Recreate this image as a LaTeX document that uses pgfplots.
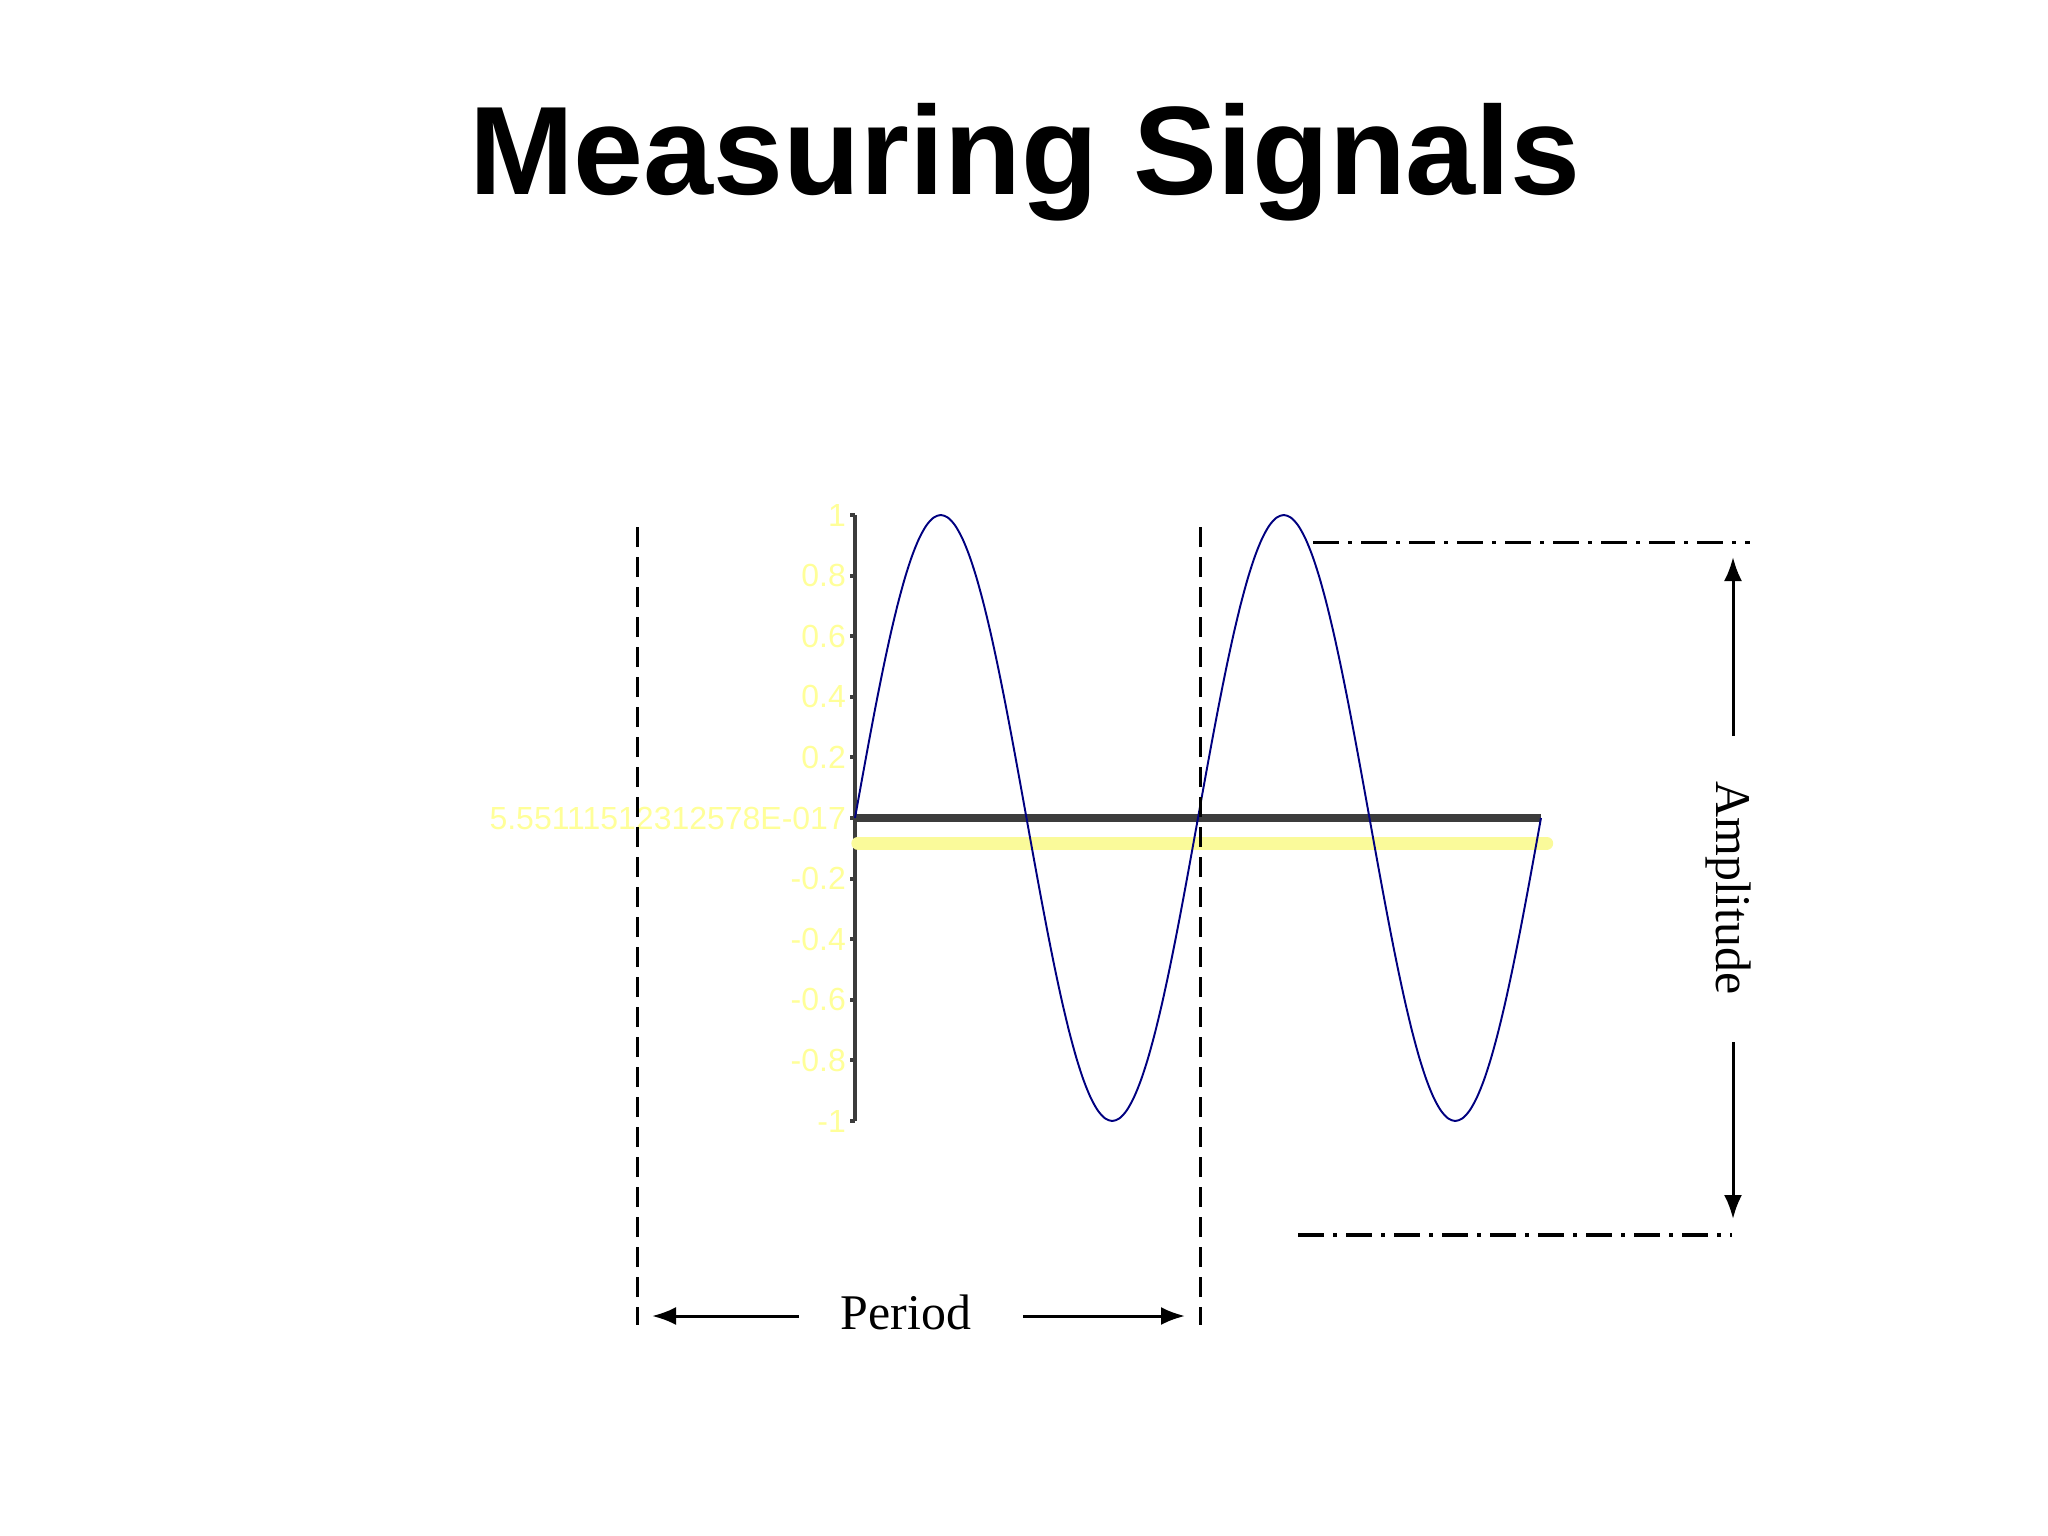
\documentclass[border=0pt]{standalone}
\usepackage{fontspec}
\setmainfont{Liberation Serif}
\newfontfamily\labelfont{Liberation Sans}
\usepackage{pgfplots}
\pgfplotsset{compat=1.18}
\usepackage{pgfplotstable}
\usetikzlibrary{arrows.meta}

\definecolor{navyline}{HTML}{000080}
\definecolor{axisgray}{HTML}{3C3C3C}
\definecolor{paleyellow}{HTML}{FFFF99}
\definecolor{baryellow}{HTML}{FAFA9A}

% two periods of the signal, x in degrees
\pgfplotstableread{
deg val
0 0
7.5 0.1305
15 0.2588
22.5 0.3827
30 0.5
37.5 0.6088
45 0.7071
52.5 0.7934
60 0.8660
67.5 0.9239
75 0.9659
82.5 0.9914
90 1
97.5 0.9914
105 0.9659
112.5 0.9239
120 0.8660
127.5 0.7934
135 0.7071
142.5 0.6088
150 0.5
157.5 0.3827
165 0.2588
172.5 0.1305
180 0
187.5 -0.1305
195 -0.2588
202.5 -0.3827
210 -0.5
217.5 -0.6088
225 -0.7071
232.5 -0.7934
240 -0.8660
247.5 -0.9239
255 -0.9659
262.5 -0.9914
270 -1
277.5 -0.9914
285 -0.9659
292.5 -0.9239
300 -0.8660
307.5 -0.7934
315 -0.7071
322.5 -0.6088
330 -0.5
337.5 -0.3827
345 -0.2588
352.5 -0.1305
360 0
367.5 0.1305
375 0.2588
382.5 0.3827
390 0.5
397.5 0.6088
405 0.7071
412.5 0.7934
420 0.8660
427.5 0.9239
435 0.9659
442.5 0.9914
450 1
457.5 0.9914
465 0.9659
472.5 0.9239
480 0.8660
487.5 0.7934
495 0.7071
502.5 0.6088
510 0.5
517.5 0.3827
525 0.2588
532.5 0.1305
540 0
547.5 -0.1305
555 -0.2588
562.5 -0.3827
570 -0.5
577.5 -0.6088
585 -0.7071
592.5 -0.7934
600 -0.8660
607.5 -0.9239
615 -0.9659
622.5 -0.9914
630 -1
637.5 -0.9914
645 -0.9659
652.5 -0.9239
660 -0.8660
667.5 -0.7934
675 -0.7071
682.5 -0.6088
690 -0.5
697.5 -0.3827
705 -0.2588
712.5 -0.1305
720 0
}\sinedata

\begin{document}
\begin{tikzpicture}
\path[fill=white, use as bounding box] (0,0) rectangle (204.8mm,-153.6mm);
\begin{axis}[
  at={(85.5mm,-112.1mm)}, anchor=south west,
  scale only axis, width=68.6mm, height=60.6mm,
  xmin=0, xmax=720, ymin=-1, ymax=1,
  axis x line=none, axis y line=left,
  axis line style={-, axisgray, line width=1.1pt},
  clip=false,
  ytick={-1,-0.8,-0.6,-0.4,-0.2,0,0.2,0.4,0.6,0.8,1},
  yticklabels={-1,-0.8,-0.6,-0.4,-0.2,5.55111512312578E-017,0.2,0.4,0.6,0.8,1},
  tick align=outside, major tick length=1.4pt,
  tick style={axisgray, line width=1.1pt},
  yticklabel style={font=\labelfont\fontsize{9.1}{10}\selectfont, text=paleyellow, anchor=east, inner sep=1pt},
]
\addplot[baryellow, line width=3.7pt, line cap=round] coordinates {(3,-0.083) (726,-0.083)};
\addplot[axisgray, line width=2.5pt] coordinates {(0,0) (720,0)};
\addplot[navyline, line width=0.55pt, smooth] table[x=deg, y=val] {\sinedata};
\end{axis}
\begin{scope}[x=0.1mm, y=-0.1mm]
  \node[anchor=base, font=\labelfont\bfseries\fontsize{35.8}{40}\selectfont] at (1025,195) {Measuring Signals};
  % period markers
  \draw[line width=0.3mm, dash pattern=on 2mm off 1mm] (637,527) -- (637,1325);
  \draw[line width=0.3mm, dash pattern=on 2mm off 1mm] (1200,527) -- (1200,1325);
  \draw[line width=0.3mm, -{Latex[length=2.4mm,width=1.8mm]}] (799,1316) -- (652,1316);
  \draw[line width=0.3mm, -{Latex[length=2.4mm,width=1.8mm]}] (1023,1316) -- (1185,1316);
  \node[anchor=base, font=\fontsize{14.2}{16}\selectfont] at (906,1329) {Period};
  % amplitude markers
  \draw[line width=0.3mm, dash pattern=on 2.6mm off 0.9mm on 0.4mm off 0.9mm] (1313,542) -- (1750,542);
  \draw[line width=0.35mm, dash pattern=on 2.6mm off 0.9mm on 0.4mm off 0.9mm] (1298,1235) -- (1732,1235);
  \draw[line width=0.3mm, -{Latex[length=2.4mm,width=1.8mm]}] (1733,736) -- (1733,557);
  \draw[line width=0.3mm, -{Latex[length=2.4mm,width=1.8mm]}] (1733,1042) -- (1733,1219);
  \node[rotate=-90, anchor=base, font=\fontsize{14.2}{16}\selectfont] at (1716,888) {Amplitude};
\end{scope}
\end{tikzpicture}
\end{document}
